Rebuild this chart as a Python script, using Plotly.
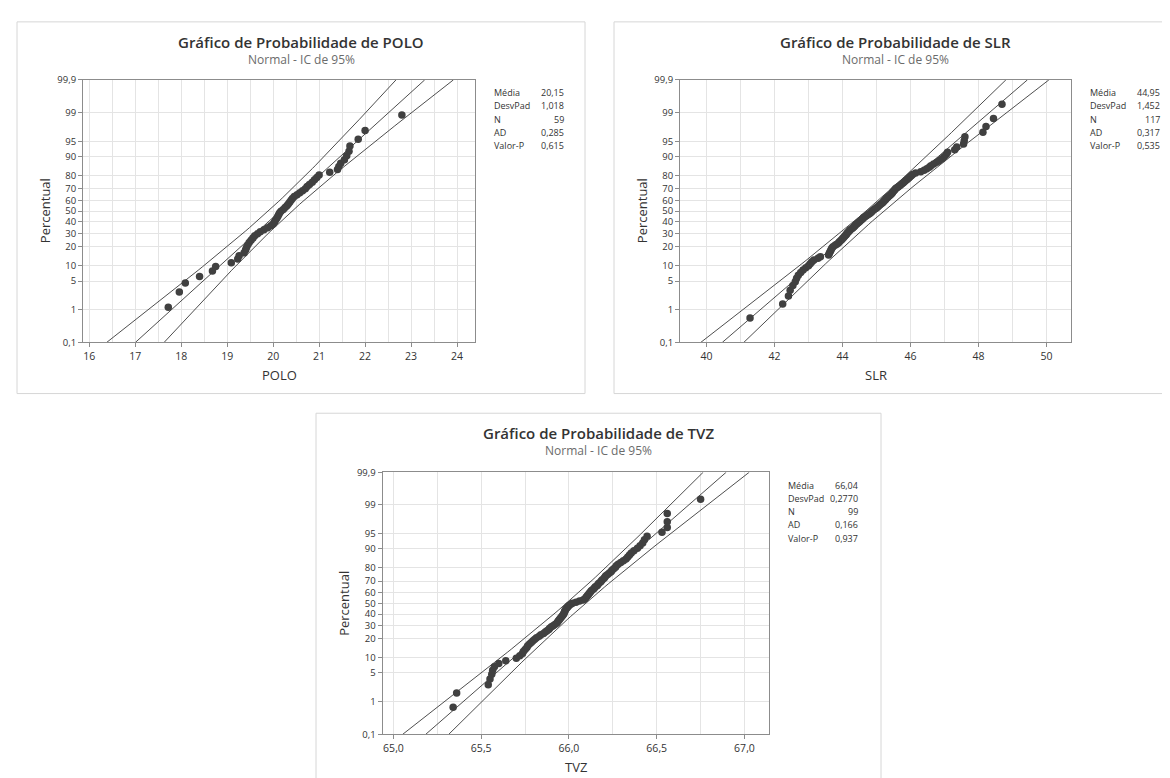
import plotly.graph_objects as go
from statistics import NormalDist

ND = NormalDist()

# ---------------- data ----------------
POLO = [17.72, 17.96, 18.09, 18.40, 18.68, 18.75, 19.09, 19.23, 19.26, 19.37,
        19.40, 19.42, 19.45, 19.48, 19.52, 19.56, 19.60, 19.66, 19.72, 19.80,
        19.88, 19.95, 20.00, 20.03, 20.05, 20.08, 20.10, 20.12, 20.14, 20.17,
        20.22, 20.26, 20.30, 20.33, 20.36, 20.39, 20.42, 20.46, 20.52, 20.58,
        20.64, 20.70, 20.74, 20.79, 20.85, 20.90, 20.95, 21.00, 21.23, 21.40,
        21.43, 21.47, 21.55, 21.60, 21.65, 21.67, 21.85, 22.00, 22.80]

SLR = [41.28, 42.24, 42.41, 42.46, 42.54, 42.61, 42.65, 42.70, 42.77, 42.84,
       42.92, 43.00, 43.05, 43.10, 43.16, 43.28, 43.35, 43.59, 43.61, 43.63,
       43.65, 43.67, 43.69, 43.72, 43.78, 43.83, 43.88, 43.91, 43.95, 43.98,
       44.01, 44.04, 44.07, 44.10, 44.12, 44.14, 44.17, 44.20, 44.22, 44.26,
       44.30, 44.33, 44.36, 44.38, 44.42, 44.45, 44.48, 44.51, 44.54, 44.57,
       44.60, 44.62, 44.66, 44.70, 44.74, 44.78, 44.82, 44.85, 44.87, 44.90,
       44.94, 44.98, 45.01, 45.04, 45.07, 45.10, 45.13, 45.17, 45.20, 45.22,
       45.25, 45.27, 45.30, 45.33, 45.36, 45.39, 45.42, 45.45, 45.47, 45.49,
       45.52, 45.54, 45.57, 45.62, 45.66, 45.70, 45.74, 45.78, 45.82, 45.86,
       45.90, 45.94, 45.98, 46.02, 46.06, 46.15, 46.30, 46.40, 46.48, 46.55,
       46.60, 46.68, 46.77, 46.85, 46.93, 46.99, 47.05, 47.09, 47.30, 47.36,
       47.56, 47.58, 47.60, 48.13, 48.22, 48.44, 48.69]

TVZ = [65.34, 65.36, 65.54, 65.55, 65.56, 65.565, 65.575, 65.60, 65.64, 65.70,
       65.72, 65.735, 65.74, 65.75, 65.76, 65.765, 65.775, 65.785, 65.795, 65.805,
       65.815, 65.83, 65.84, 65.855, 65.865, 65.875, 65.885, 65.89, 65.90, 65.91,
       65.92, 65.93, 65.935, 65.94, 65.945, 65.95, 65.955, 65.96, 65.965, 65.97,
       65.972, 65.975, 65.977, 65.98, 65.985, 65.99, 65.995, 66.00, 66.01, 66.02,
       66.04, 66.06, 66.08, 66.09, 66.095, 66.10, 66.105, 66.11, 66.115, 66.12,
       66.125, 66.13, 66.14, 66.145, 66.15, 66.16, 66.165, 66.17, 66.18, 66.185,
       66.19, 66.20, 66.205, 66.21, 66.22, 66.23, 66.24, 66.245, 66.255, 66.265,
       66.27, 66.28, 66.295, 66.31, 66.325, 66.335, 66.345, 66.355, 66.37, 66.39,
       66.405, 66.42, 66.43, 66.445, 66.53, 66.56, 66.56, 66.56, 66.75]

POLO_MEAN, POLO_SD = 20.15, 1.018
SLR_MEAN, SLR_SD = 44.95, 1.452
TVZ_MEAN, TVZ_SD = 66.04, 0.2770

STAT_LABELS = ["Média", "DesvPad", "N", "AD", "Valor-P"]
POLO_STATS = ["20,15", "1,018", "59", "0,285", "0,615"]
SLR_STATS = ["44,95", "1,452", "117", "0,317", "0,535"]
TVZ_STATS = ["66,04", "0,2770", "99", "0,166", "0,937"]

PCT_TICKS = [0.1, 1, 5, 10, 20, 30, 40, 50, 60, 70, 80, 90, 95, 99, 99.9]
PCT_LABELS = ["0,1", "1", "5", "10", "20", "30", "40", "50", "60", "70",
              "80", "90", "95", "99", "99,9"]

POLO_XTICKS = [16, 17, 18, 19, 20, 21, 22, 23, 24]
POLO_XLABELS = ["16", "17", "18", "19", "20", "21", "22", "23", "24"]
SLR_XTICKS = [40, 42, 44, 46, 48, 50]
SLR_XLABELS = ["40", "42", "44", "46", "48", "50"]
TVZ_XTICKS = [65.0, 65.5, 66.0, 66.5, 67.0]
TVZ_XLABELS = ["65,0", "65,5", "66,0", "66,5", "67,0"]

# ---------------- styling ----------------
W, H = 1170, 778
FONT = "Open Sans"
TXT = "#333333"
GRID = "#e4e4e4"
FRAME = "#8c8c8c"
MARK = "#404040"
LINE = "#3a3a3a"

Z_TOP = ND.inv_cdf(0.999)
Z_BOT = ND.inv_cdf(0.001)
Z975 = ND.inv_cdf(0.975)


def px(x):
    return x / W


def py(y):
    return 1 - y / H


fig = go.Figure()

panels = [
    dict(name="POLO", data=POLO, mean=POLO_MEAN, sd=POLO_SD, stats=POLO_STATS,
         xticks=POLO_XTICKS, xlabels=POLO_XLABELS, minor=0.5,
         xrange=[15.865, 24.39], box=(9, 7, 577, 385),
         plot=(75, 66, 467, 333), xa="x", ya="y"),
    dict(name="SLR", data=SLR, mean=SLR_MEAN, sd=SLR_SD, stats=SLR_STATS,
         xticks=SLR_XTICKS, xlabels=SLR_XLABELS, minor=1.0,
         xrange=[39.22, 50.72], box=(606, 7, 1169, 385),
         plot=(672, 66, 1063, 333), xa="x2", ya="y2"),
    dict(name="TVZ", data=TVZ, mean=TVZ_MEAN, sd=TVZ_SD, stats=TVZ_STATS,
         xticks=TVZ_XTICKS, xlabels=TVZ_XLABELS, minor=0.25,
         xrange=[64.938, 67.142], box=(308, 405, 873, 777),
         plot=(374.6, 465, 761.4, 731.5), xa="x3", ya="y3"),
]

annotations = []
shapes = []
zgrid = [Z_BOT + k * (Z_TOP - Z_BOT) / 80 for k in range(81)]

for i, p in enumerate(panels):
    n = len(p["data"])
    xs = sorted(p["data"])
    zs = [ND.inv_cdf((k + 1 - 0.3) / (n + 0.4)) for k in range(n)]
    mean, sd = p["mean"], p["sd"]

    fit_x = [mean + sd * z for z in zgrid]
    hw = [Z975 * sd * ((1.0 / n + z * z / (2.0 * n)) ** 0.5) for z in zgrid]
    lo_x = [f - h for f, h in zip(fit_x, hw)]
    hi_x = [f + h for f, h in zip(fit_x, hw)]

    for lx in (lo_x, fit_x, hi_x):
        fig.add_trace(go.Scatter(x=lx, y=zgrid, mode="lines",
                                 line=dict(color=LINE, width=0.9),
                                 xaxis=p["xa"], yaxis=p["ya"], hoverinfo="skip"))
    fig.add_trace(go.Scatter(x=xs, y=zs, mode="markers",
                             marker=dict(color=MARK, size=7.5, line=dict(width=0)),
                             xaxis=p["xa"], yaxis=p["ya"]))

    x0, y0, x1, y1 = p["plot"]
    suffix = "" if i == 0 else str(i + 1)
    lo_t, hi_t = p["xticks"][0], p["xticks"][-1]
    step = p["minor"]
    minor_vals = []
    v = lo_t - step
    while v <= hi_t + step + 1e-9:
        minor_vals.append(round(v, 4))
        v += step
    fig.update_layout(**{
        "xaxis" + suffix: dict(
            domain=[px(x0), px(x1)], range=p["xrange"], anchor="y" + suffix,
            tickmode="array", tickvals=p["xticks"], ticktext=p["xlabels"],
            ticks="outside", ticklen=4, tickcolor=FRAME,
            showline=True, linecolor=FRAME, linewidth=1, mirror=True,
            showgrid=True, gridcolor=GRID, gridwidth=1, zeroline=False,
            minor=dict(tickmode="array", tickvals=minor_vals, showgrid=True,
                       gridcolor=GRID, ticklen=0),
            tickfont=dict(family=FONT, size=10.5, color=TXT),
        ),
        "yaxis" + suffix: dict(
            domain=[py(y1), py(y0)], range=[Z_BOT, Z_TOP], anchor="x" + suffix,
            tickmode="array",
            tickvals=[ND.inv_cdf(t / 100.0) for t in PCT_TICKS],
            ticktext=PCT_LABELS,
            ticks="outside", ticklen=4, tickcolor=FRAME,
            showline=True, linecolor=FRAME, linewidth=1, mirror=True,
            showgrid=True, gridcolor=GRID, gridwidth=1, zeroline=False,
            tickfont=dict(family=FONT, size=9.5, color=TXT),
        ),
    })

    bx0, by0, bx1, by1 = p["box"]
    shapes.append(dict(type="rect", xref="paper", yref="paper",
                       x0=px(bx0), x1=px(bx1), y0=py(by1), y1=py(by0),
                       line=dict(color="#d6d6d6", width=1), layer="below"))

    cx = (bx0 + bx1) / 2
    annotations.append(dict(text="Gráfico de Probabilidade de " + p["name"],
                            x=px(cx), y=py(by0 + 20.5), xref="paper", yref="paper",
                            showarrow=False, xanchor="center", yanchor="middle",
                            font=dict(family=FONT, size=15, color=TXT, weight=600)))
    annotations.append(dict(text="Normal - IC de 95%",
                            x=px(cx), y=py(by0 + 38), xref="paper", yref="paper",
                            showarrow=False, xanchor="center", yanchor="middle",
                            font=dict(family=FONT, size=12, color="#6b6b6b")))
    annotations.append(dict(text="Percentual", textangle=-90,
                            x=px(x0 - 38), y=py((y0 + y1) / 2), xref="paper", yref="paper",
                            showarrow=False, xanchor="center", yanchor="middle",
                            font=dict(family=FONT, size=13, color=TXT)))
    annotations.append(dict(text=p["name"],
                            x=px((x0 + x1) / 2), y=py(y1 + 33), xref="paper", yref="paper",
                            showarrow=False, xanchor="center", yanchor="middle",
                            font=dict(family=FONT, size=13, color=TXT)))
    for r, (lab, val) in enumerate(zip(STAT_LABELS, p["stats"])):
        yy = y0 + 13 + r * 13.5
        annotations.append(dict(text=lab, x=px(x1 + 17), y=py(yy), xref="paper",
                                yref="paper", showarrow=False, xanchor="left",
                                yanchor="middle",
                                font=dict(family=FONT, size=9, color=TXT)))
        annotations.append(dict(text=val, x=px(x1 + 91), y=py(yy), xref="paper",
                                yref="paper", showarrow=False, xanchor="right",
                                yanchor="middle",
                                font=dict(family=FONT, size=9, color=TXT)))

fig.update_layout(width=W, height=H, margin=dict(l=0, r=0, t=0, b=0),
                  paper_bgcolor="white", plot_bgcolor="white", showlegend=False,
                  annotations=annotations, shapes=shapes,
                  font=dict(family=FONT, color=TXT))

fig.write_html("out.html")
